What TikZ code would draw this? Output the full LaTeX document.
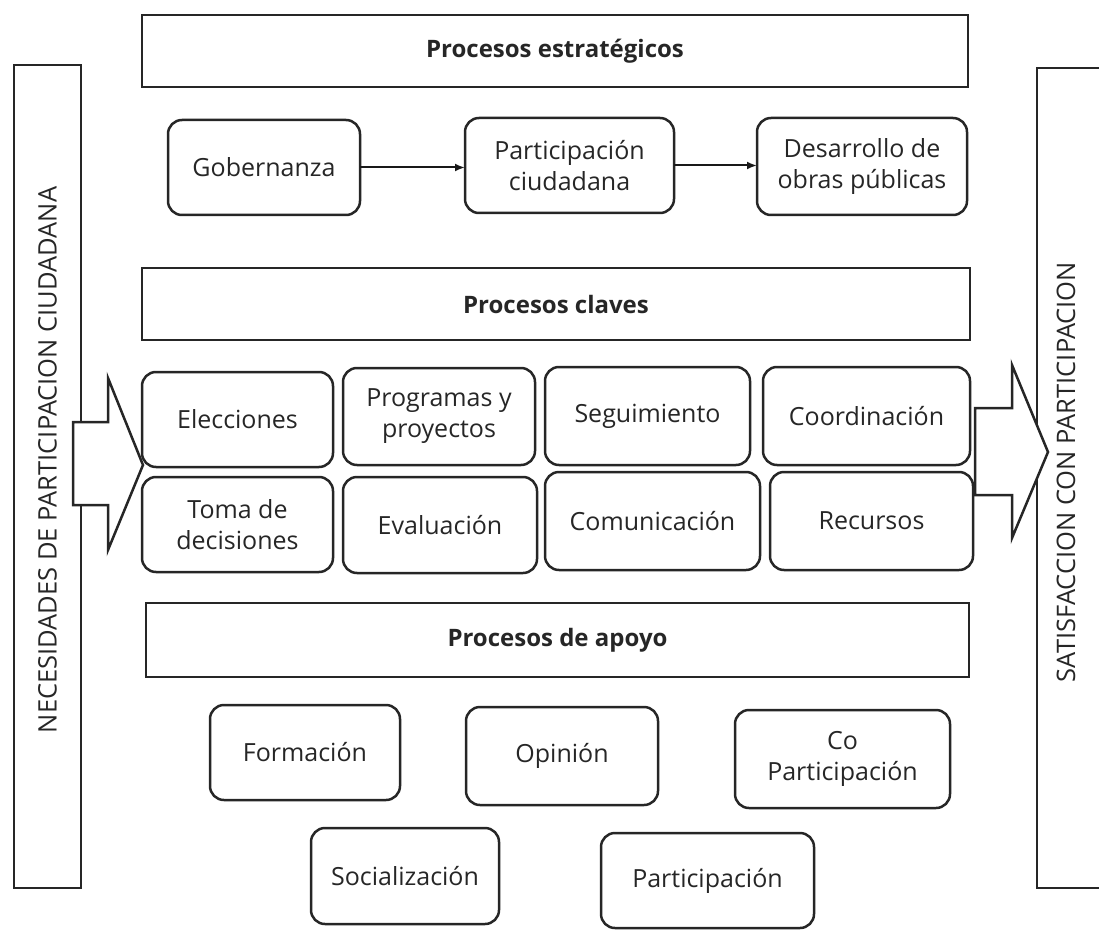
\documentclass[tikz,border=0pt]{standalone}
\usepackage{fontspec}
\setmainfont{Open Sans}
\usetikzlibrary{arrows.meta}
\begin{document}
\begin{tikzpicture}[x=1pt,y=-1pt,
  line width=2.5pt,
  every node/.style={text=black!85},
  rbox/.style={draw=black!85, rounded corners=14pt, inner sep=0pt, outer sep=0pt, align=center, font=\fontsize{25}{31}\selectfont},
  hbox/.style={draw=black!85, inner sep=0pt, outer sep=0pt, font=\bfseries\fontsize{24}{30}\selectfont},
  vbox/.style={draw=black!85, inner sep=0pt, outer sep=0pt},
  vtext/.style={rotate=90, font=\fontsize{25.5}{30}\selectfont},
  conn/.style={-{Latex[length=10pt,width=8pt]}, line width=2pt, draw=black!90},
  bigarrow/.style={draw=black!85, fill=white, line width=2.5pt, line join=miter}
]
\clip (0,0) rectangle (1099,933);
\useasboundingbox (0,0) rectangle (1099,933);
\newcommand\bx[7][rbox]{\node[#1, minimum width={(#5-#3)*1pt}, minimum height={(#6-#4)*1pt}] (#2) at ({(#3+#5)/2},{(#4+#6)/2}) {#7};}

% side bars
\bx[vbox]{left}{14}{65}{81}{888}{}
\bx[vbox]{right}{1037}{68}{1104}{888}{}
\node[vtext] (lefttxt) at (47.5,460) {NECESIDADES DE PARTICIPACION CIUDADANA};
\node[vtext] (righttxt) at (1066,472) {SATISFACCION CON PARTICIPACION};

% headers
\bx[hbox]{h1}{142}{15}{968}{87}{Procesos estratégicos}
\bx[hbox]{h2}{142}{268}{970}{340}{Procesos claves}
\bx[hbox]{h3}{146}{603}{969}{677}{Procesos de apoyo}

% strategic
\bx{gob}{168}{120}{360}{215}{Gobernanza}
\bx{pc}{465}{118}{674}{213}{Participación\\ciudadana}
\bx{dop}{757}{118}{967}{215}{Desarrollo de\\obras públicas}
\draw[conn] (gob) -- (gob -| pc.west);
\draw[conn] (pc) -- (pc -| dop.west);

% key processes
\bx{ele}{142}{372}{333}{467}{Elecciones}
\bx{pyp}{343}{368}{535}{465}{Programas y\\proyectos}
\bx{seg}{545}{367}{750}{465}{Seguimiento}
\bx{coo}{763}{367}{970}{465}{Coordinación}
\bx{tdd}{142}{477}{333}{572}{Toma de\\decisiones}
\bx{eva}{343}{477}{537}{573}{Evaluación}
\bx{com}{545}{472}{760}{570}{Comunicación}
\bx{rec}{770}{472}{973}{570}{Recursos}

% support
\bx{for}{210}{705}{400}{800}{Formación}
\bx{opi}{466}{707}{658}{805}{Opinión}
\bx{cop}{735}{710}{950}{808}{Co\\Participación}
\bx{soc}{311}{828}{499}{924}{Socialización}
\bx{par}{601}{833}{814}{928}{Participación}

% big arrows
\draw[bigarrow] (73,422) -- (108,422) -- (108,378) -- (143,465) -- (108,550) -- (108,505) -- (73,505) -- cycle;
\draw[bigarrow] (975,408) -- (1012,408) -- (1012,365) -- (1048,452) -- (1012,538) -- (1012,495) -- (975,495) -- cycle;
\end{tikzpicture}
\end{document}
